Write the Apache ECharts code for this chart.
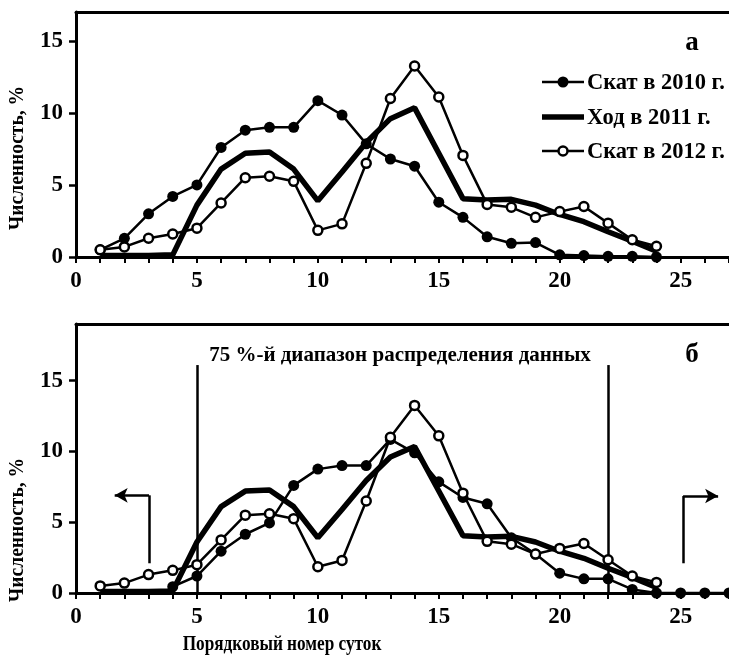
<!DOCTYPE html>
<html><head><meta charset="utf-8">
<script src="https://cdn.jsdelivr.net/npm/echarts@6/dist/echarts.min.js"></script>
<style>html,body{margin:0;padding:0;background:#fff}#c{width:729px;height:658px}</style>
</head><body><div id="c"></div>
<script>
// ---- data ----
const daysTop = [1,2,3,4,5,6,7,8,9,10,11,12,13,14,15,16,17,18,19,20,21,22,23,24];
const skat2010Top = [0.5,1.3,3.0,4.2,5.0,7.6,8.8,9.0,9.0,10.85,9.85,7.85,6.8,6.3,3.8,2.75,1.4,0.95,1.0,0.15,0.1,0.05,0.05,0.0];
const hod2011 = [0.1,0.1,0.1,0.15,3.6,6.1,7.2,7.28,6.1,3.9,5.9,7.95,9.6,10.35,7.2,4.05,3.95,4.0,3.6,2.95,2.45,1.75,1.1,0.4];
const skat2012 = [0.5,0.7,1.3,1.6,2.0,3.75,5.5,5.6,5.25,1.85,2.3,6.5,11.0,13.25,11.1,7.05,3.65,3.45,2.75,3.15,3.5,2.35,1.2,0.75];
const daysBottom2010 = [4,5,6,7,8,9,10,11,12,13,14,15,16,17,18,19,20,21,22,23,24,25,26,27];
const skat2010Bottom = [0.45,1.2,2.95,4.15,4.95,7.6,8.75,9.0,9.0,10.85,9.9,7.85,6.75,6.3,3.9,2.75,1.4,1.0,1.0,0.25,0,0,0,0];
const rangeBounds = [5, 22];
const rangeTop = 16.1;
const xTicks = [0,1,2,3,4,5,6,7,8,9,10,11,12,13,14,15,16,17,18,19,20,21,22,23,24,25,26,27];
const xTickLabels = [0,5,10,15,20,25];
const yTickLabels = [0,5,10,15];
const names = ['Скат в 2010 г.','Ход в 2011 г.','Скат в 2012 г.'];

const FONT = '"Liberation Serif","Times New Roman",serif';
const pairs = (xs, ys) => xs.map((x, i) => [x, ys[i]]);

function xAx(gi) {
  return {
    type: 'value', gridIndex: gi, min: 0, max: 27, interval: 1,
    axisLine: { show: true, onZero: false, lineStyle: { color: '#000', width: 3 } },
    axisTick: { show: true, length: 6, customValues: xTicks, lineStyle: { color: '#000', width: 2 } },
    axisLabel: { customValues: xTickLabels, color: '#000', fontFamily: FONT, fontWeight: 'bold', fontSize: 23, margin: 13 },
    splitLine: { show: false }
  };
}
function xTop(gi) {
  return {
    type: 'value', gridIndex: gi, position: 'top', min: 0, max: 27,
    axisLine: { show: true, onZero: false, lineStyle: { color: '#000', width: 3 } },
    axisTick: { show: false }, axisLabel: { show: false }, splitLine: { show: false }
  };
}
function yAx(gi, max) {
  return {
    type: 'value', gridIndex: gi, min: 0, max: max, interval: 5,
    axisLine: { show: true, lineStyle: { color: '#000', width: 3 } },
    axisTick: { show: true, length: 7, customValues: yTickLabels, lineStyle: { color: '#000', width: 2.5 } },
    axisLabel: { customValues: yTickLabels, color: '#000', fontFamily: FONT, fontWeight: 'bold', fontSize: 23, margin: 13 },
    splitLine: { show: false }
  };
}
function filled(gi, data) {
  return { name: names[0], type: 'line', xAxisIndex: gi, yAxisIndex: gi, data: data,
    symbol: 'circle', symbolSize: 11, showAllSymbol: true,
    itemStyle: { color: '#000' }, lineStyle: { color: '#000', width: 2.5 }, z: 3 };
}
function thick(gi) {
  return { name: names[1], type: 'line', xAxisIndex: gi, yAxisIndex: gi, data: pairs(daysTop, hod2011),
    symbol: 'none', lineStyle: { color: '#000', width: 5.5 }, itemStyle: { color: '#000' }, z: 4 };
}
function open(gi) {
  return { name: names[2], type: 'line', xAxisIndex: gi, yAxisIndex: gi, data: pairs(daysTop, skat2012),
    symbol: 'circle', symbolSize: 9, showAllSymbol: true,
    itemStyle: { color: '#fff', borderColor: '#000', borderWidth: 2.5 }, lineStyle: { color: '#000', width: 2.5 }, z: 5 };
}
const seg = (a, b, endSym) => [
  { coord: a, symbol: 'none' },
  { coord: b, symbol: endSym || 'none', symbolSize: [11, 13] }
];

const bottomThick = thick(1);
bottomThick.markLine = {
  silent: true, animation: false,
  label: { show: false },
  lineStyle: { color: '#000', width: 2.5, type: 'solid' },
  emphasis: { disabled: true },
  data: [
    seg([rangeBounds[0], 0], [rangeBounds[0], rangeTop]),
    seg([rangeBounds[1], 0], [rangeBounds[1], rangeTop]),
    seg([3.02, 2.1], [3.02, 6.9]),
    seg([3.02, 6.9], [1.6, 6.9], 'arrow'),
    seg([25.1, 2.1], [25.1, 6.85]),
    seg([25.1, 6.85], [26.55, 6.85], 'arrow')
  ]
};

const txt = (t, x, y, size, extra, align) => Object.assign({
  type: 'text', x: x, y: y, silent: true,
  style: { text: t, font: 'bold ' + size + 'px ' + FONT, fill: '#000', textAlign: align || 'center', textVerticalAlign: 'middle' }
}, extra || {});

// legend drawn as graphic (icons + text)
const legRows = [82, 117, 151];
const legendEls = [];
legRows.forEach((ly, i) => {
  legendEls.push({ type: 'line', silent: true, shape: { x1: 542, y1: ly, x2: 584, y2: ly },
    style: { stroke: '#000', lineWidth: i === 1 ? 5.5 : 2.5 } });
  if (i === 0) legendEls.push({ type: 'circle', silent: true, shape: { cx: 563, cy: ly, r: 5.5 }, style: { fill: '#000' } });
  if (i === 2) legendEls.push({ type: 'circle', silent: true, shape: { cx: 563, cy: ly, r: 4.5 }, style: { fill: '#fff', stroke: '#000', lineWidth: 2.5 } });
  legendEls.push(txt(names[i], 587, ly + 1, 22.5, null, 'left'));
});

const option = {
  animation: false,
  backgroundColor: '#fff',
  grid: [
    { left: 76, top: 12, width: 656, height: 245 },
    { left: 76, top: 324, width: 656, height: 269 }
  ],
  xAxis: [xAx(0), xAx(1), xTop(0), xTop(1)],
  yAxis: [yAx(0, 17), yAx(1, 19)],
  series: [
    filled(0, pairs(daysTop, skat2010Top)), thick(0), open(0),
    filled(1, pairs(daysBottom2010, skat2010Bottom)), bottomThick, open(1)
  ],
  graphic: legendEls.concat([
    txt('а', 692, 43, 27),
    txt('б', 692, 355, 27),
    txt('75 %-й диапазон распределения данных', 400, 356, 21),
    txt('Порядковый номер суток', 282, 645, 21, { scaleX: 0.82 }),
    txt('Численность, %', 18, 158, 21, { rotation: Math.PI / 2, scaleX: 0.93 }),
    txt('Численность, %', 18, 530, 21, { rotation: Math.PI / 2, scaleX: 0.93 })
  ])
};
const chart = echarts.init(document.getElementById('c'), null, { renderer: 'canvas' });
chart.setOption(option);
</script></body></html>
